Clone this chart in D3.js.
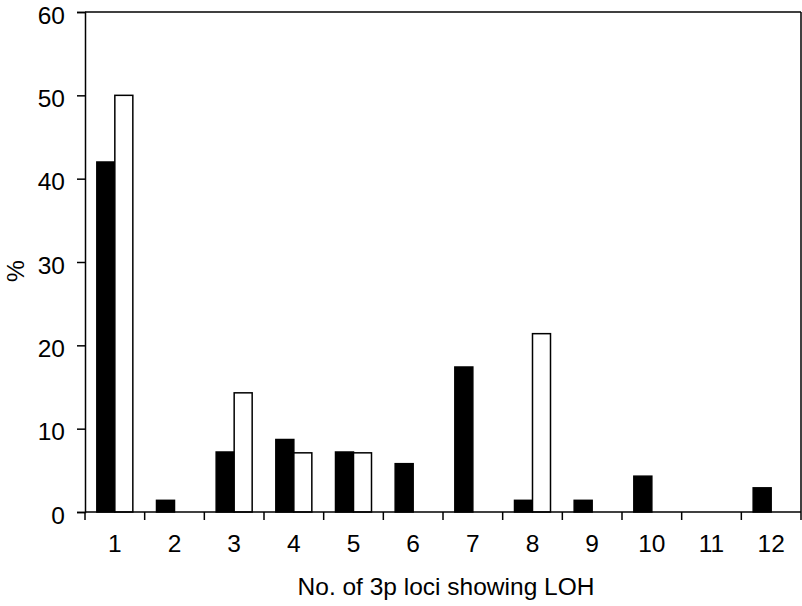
<!DOCTYPE html>
<html>
<head>
<meta charset="utf-8">
<script src="https://cdn.jsdelivr.net/npm/d3@7"></script>
<style>
  body { margin: 0; background: #fff; }
  text { font-family: "Liberation Sans", Arial, sans-serif; fill: #000; }
</style>
</head>
<body>
<div class="container"></div>
<script>
// categories: number of 3p loci showing LOH
let categories = ['1', '2', '3', '4', '5', '6', '7', '8', '9', '10', '11', '12']
// percentages, black series and white series
let blackValues = [42.0, 1.4, 7.2, 8.7, 7.2, 5.8, 17.4, 1.4, 1.4, 4.3, 0, 2.9]
let whiteValues = [50.0, 0, 14.3, 7.1, 7.1, 0, 0, 21.4, 0, 0, 0, 0]
let yTicks = [0, 10, 20, 30, 40, 50, 60]

let width = 802, height = 606
let plotLeft = 85, plotRight = 801, plotTop = 12, plotBottom = 512

let svg = d3.select('.container')
    .append('svg')
    .attr('width', width)
    .attr('height', height)

let x = d3.scaleBand()
    .domain(categories)
    .range([plotLeft, plotRight])

let y = d3.scaleLinear()
    .domain([0, 60])
    .range([plotBottom, plotTop])

let barW = 18

// frame: top and right lines
svg.append('line')
    .attr('x1', plotLeft).attr('x2', plotRight)
    .attr('y1', plotTop).attr('y2', plotTop)
    .attr('stroke', '#000').attr('stroke-width', 1.5)
svg.append('line')
    .attr('x1', plotRight).attr('x2', plotRight)
    .attr('y1', plotTop).attr('y2', plotBottom)
    .attr('stroke', '#000').attr('stroke-width', 1.5)

// bars
let groups = svg.selectAll('.grp')
    .data(categories)
    .enter().append('g')

groups.filter((d, i) => blackValues[i] > 0)
    .append('rect')
    .attr('x', d => x(d) + x.bandwidth() / 2 - barW)
    .attr('y', (d) => y(blackValues[categories.indexOf(d)]))
    .attr('width', barW)
    .attr('height', (d) => plotBottom - y(blackValues[categories.indexOf(d)]))
    .attr('fill', '#000')
    .attr('stroke', '#000')
    .attr('stroke-width', 1.5)

groups.filter((d, i) => whiteValues[i] > 0)
    .append('rect')
    .attr('x', d => x(d) + x.bandwidth() / 2)
    .attr('y', (d) => y(whiteValues[categories.indexOf(d)]))
    .attr('width', barW)
    .attr('height', (d) => plotBottom - y(whiteValues[categories.indexOf(d)]))
    .attr('fill', '#fff')
    .attr('stroke', '#000')
    .attr('stroke-width', 1.5)

// y axis
let yAxis = svg.append('g')
    .attr('transform', 'translate(' + plotLeft + ',0)')
    .call(d3.axisLeft(y).tickValues(yTicks).tickSize(8).tickPadding(12))
yAxis.select('.domain').attr('stroke-width', 1.5)
yAxis.selectAll('.tick line').attr('stroke-width', 1.5)
yAxis.selectAll('text')
    .attr('dy', '0.45em')
    .style('font-size', '24.5px')
    .style('font-family', '"Liberation Sans", Arial, sans-serif')

// x axis: ticks sit on band edges, labels centred in bands
let edges = d3.range(categories.length + 1).map(i => plotLeft + i * x.step())
let xAxis = svg.append('g')
    .attr('transform', 'translate(0,' + plotBottom + ')')
xAxis.append('line')
    .attr('x1', plotLeft).attr('x2', plotRight)
    .attr('stroke', '#000').attr('stroke-width', 1.5)
xAxis.selectAll('.xt')
    .data(edges)
    .enter().append('line')
    .attr('x1', d => d).attr('x2', d => d)
    .attr('y1', 0).attr('y2', 8)
    .attr('stroke', '#000').attr('stroke-width', 1.5)
xAxis.selectAll('.xl')
    .data(categories)
    .enter().append('text')
    .attr('x', d => x(d) + x.bandwidth() / 2)
    .attr('y', 40)
    .attr('text-anchor', 'middle')
    .style('font-size', '24.5px')
    .text(d => d)

// axis titles
svg.append('text')
    .attr('x', (plotLeft + plotRight) / 2 + 3)
    .attr('y', 595)
    .attr('text-anchor', 'middle')
    .style('font-size', '24.5px')
    .text('No. of 3p loci showing LOH')

svg.append('text')
    .attr('transform', 'translate(24,' + ((plotTop + plotBottom) / 2 + 9) + ') rotate(-90)')
    .attr('text-anchor', 'middle')
    .style('font-size', '24.5px')
    .text('%')
</script>
</body>
</html>
